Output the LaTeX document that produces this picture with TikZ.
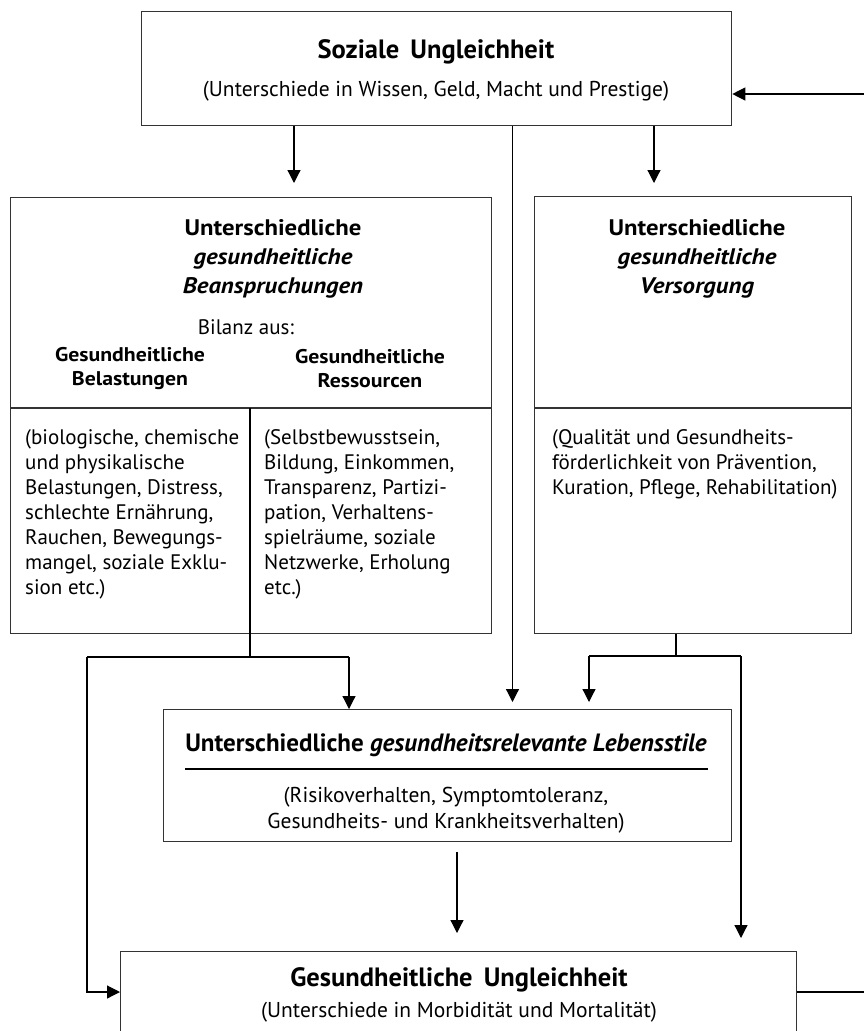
\documentclass[tikz,border=0pt]{standalone}
\usepackage{fontspec}
\setmainfont{PT Sans}
\newfontfamily\widef[FakeStretch=1.1]{PT Sans}
\newfontfamily\condf{PT Sans}
\usetikzlibrary{arrows.meta,calc}
\tikzset{
  box/.style={draw=black!80, line width=1.3pt, inner sep=0pt, anchor=north west},
  con/.style={draw=black, line width=1.2pt},
  arr/.style={con, -{Triangle[length=13pt,width=13pt]}},
  txt/.style={inner sep=0pt, font=\fontsize{21}{25}\selectfont},
  ttl/.style={inner sep=0pt, align=center, font=\widef\fontsize{22.5}{29}\selectfont\bfseries},
  colh/.style={inner sep=0pt, align=center, font=\widef\fontsize{19.8}{24}\selectfont\bfseries},
  ctitle/.style={inner sep=0pt, font=\condf\fontsize{26.5}{30}\selectfont\bfseries},
  csub/.style={inner sep=0pt, align=center, font=\condf\fontsize{21.5}{26.5}\selectfont},
}
\begin{document}
\begin{tikzpicture}[x=1pt,y=-1pt]
\useasboundingbox (0,0) rectangle (864,1031);
\clip (0,0) rectangle (864,1031);
% boxes
\node[box, minimum width=590pt, minimum height=114pt] (soz) at (141,11) {};
\node[box, minimum width=481pt, minimum height=436pt] (bel) at (10,197) {};
\node[box, minimum width=317pt, minimum height=437pt] (ver) at (534,196) {};
\node[box, minimum width=568pt, minimum height=132pt] (leb) at (163,709) {};
\node[box, minimum width=676pt, minimum height=120pt] (ges) at (120,951) {};
% dividers
\coordinate (dL) at (10,408);
\coordinate (dR) at (534,408);
\coordinate (colx) at (250,0);
\draw[con, draw=black!80, line width=1.3pt] (dL) -- (dL -| bel.east);
\draw[con, draw=black!80, line width=1.3pt] (dR) -- (dR -| ver.east);
\draw[con] (colx |- dL) -- (colx |- bel.south);
\coordinate (ulA) at (185,769);
\coordinate (ulB) at (708,769);
\draw[con] (ulA) -- (ulB);
% texts
\node[ctitle] (t1) at (436,52) {Soziale\, Ungleichheit};
\node[csub] (s1) at (436,91) {(Unterschiede in Wissen, Geld, Macht und Prestige)};
\node[ttl] (t2) at (273,259) {Unterschiedliche\\\itshape gesundheitliche\\\itshape Beanspruchungen};
\node[txt] (bil) at (246,327) {Bilanz aus:};
\node[colh] (h1) at (130,369) {Gesundheitliche\\Belastungen};
\node[colh] (h2) at (370,369) {Gesundheitliche\\Ressourcen};
\node[txt, align=left, anchor=north west] (b1) at (25,429) {(biologische, chemische\\und physikalische\\Belastungen, Distress,\\schlechte Ern\"ahrung,\\Rauchen, Bewegungs-\\mangel, soziale Exklu-\\sion etc.)};
\node[txt, align=left, anchor=north west] (b2) at (264,429) {(Selbstbewusstsein,\\Bildung, Einkommen,\\Transparenz, Partizi-\\pation, Verhaltens-\\spielr\"aume, soziale\\Netzwerke, Erholung\\etc.)};
\node[ttl] (t3) at (697,259) {Unterschiedliche\\\itshape gesundheitliche\\\itshape Versorgung};
\node[txt, align=left, anchor=north west] (b3) at (552,429) {(Qualit\"at und Gesundheits-\\f\"orderlichkeit von Pr\"avention,\\Kuration, Pflege, Rehabilitation)};
\node[ctitle, font=\condf\fontsize{25}{30}\selectfont\bfseries] (t4) at (446,745) {Unterschiedliche \textit{gesundheitsrelevante Lebensstile}};
\node[csub] (s4) at (446,810) {(Risikoverhalten, Symptomtoleranz,\\Gesundheits- und Krankheitsverhalten)};
\node[ctitle] (t5) at (459,980) {Gesundheitliche\, Ungleichheit};
\node[csub] (s5) at (459,1012) {(Unterschiede in Morbidit\"at und Mortalit\"at)};
% connector coordinates
\coordinate (xa) at (294,0);
\coordinate (xb) at (654,0);
\coordinate (xc) at (512.5,0);
\coordinate (jl) at (250,657);
\coordinate (jr) at (676,656);
\coordinate (pl) at (87,657);
\coordinate (ql) at (349,657);
\coordinate (pr) at (589,656);
\coordinate (qr) at (741,656);
\coordinate (xd) at (457,0);
\coordinate (fbT) at (864,94);
\coordinate (fbB) at (864,992);
% connectors
\draw[arr, shorten >=14pt] (xa |- soz.south) -- (xa |- bel.north);
\draw[arr, shorten >=13pt] (xb |- soz.south) -- (xb |- ver.north);
\draw[arr, shorten >=7pt] (xc |- soz.south) -- (xc |- leb.north);
\draw[con] (colx |- bel.south) -- (jl);
\draw[con] (pl) -- (ql);
\draw[arr] (ql) -- (ql |- leb.north);
\draw[arr] (pl) |- (ges.west |- fbB);
\draw[con] (jr |- ver.south) -- (jr);
\draw[con] (pr) -- (qr);
\draw[arr, shorten >=7pt] (pr) -- (pr |- leb.north);
\draw[arr, shorten >=13pt] (qr) -- (qr |- ges.north);
\draw[arr, shorten <=10pt, shorten >=18pt] (xd |- leb.south) -- (xd |- ges.north);
\draw[con] (ges.east |- fbB) -- (fbB);
\draw[arr] (fbT) -- (soz.east |- fbT);
\end{tikzpicture}
\end{document}
